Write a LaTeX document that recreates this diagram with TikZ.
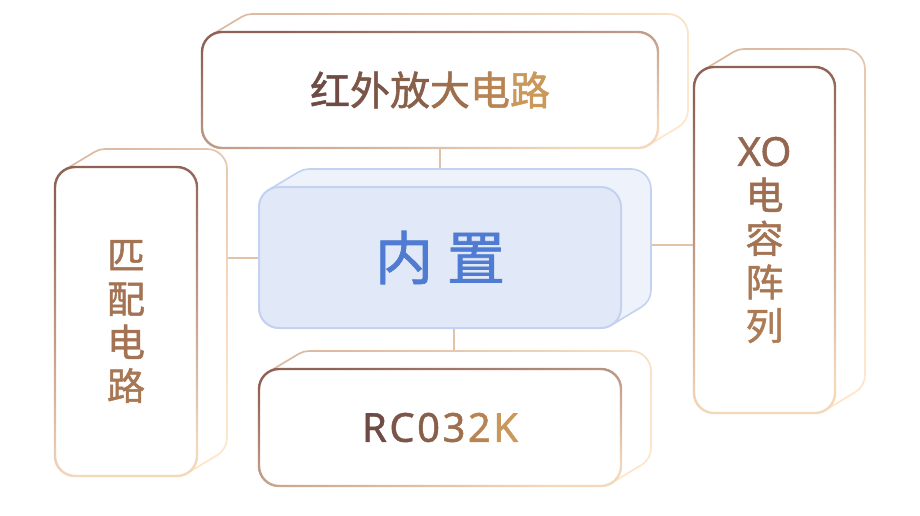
\documentclass[tikz,border=0pt]{standalone}
\usepackage{fontspec}
\setmainfont{Noto Sans}
\newfontfamily\cjk[FakeBold=1.3]{Noto Sans CJK SC}
\newfontfamily\lat[FakeBold=1.1]{Noto Sans}
\definecolor{connC}{HTML}{E3C3A7}
\definecolor{frD}{HTML}{8E6254}
\definecolor{frL}{HTML}{F4D8BC}
\definecolor{bkD}{HTML}{DDBBA2}
\definecolor{bkL}{HTML}{FDE6CA}
\definecolor{cFrontFill}{HTML}{E1E8F7}
\definecolor{cBackFill}{HTML}{EEF2FB}
\definecolor{cLine}{HTML}{C2D2F0}
\definecolor{cText}{HTML}{4F7BD2}
\definecolor{ta}{HTML}{6E4B44}
\definecolor{tb}{HTML}{7B5548}
\definecolor{tc}{HTML}{88604A}
\definecolor{td}{HTML}{9D6F4D}
\definecolor{te}{HTML}{B88453}
\definecolor{tf}{HTML}{CA985A}
\definecolor{va}{HTML}{94664F}
\definecolor{vb}{HTML}{9E6E50}
\definecolor{vc}{HTML}{A37353}
\definecolor{vd}{HTML}{A87854}
\definecolor{ve}{HTML}{AD7C55}
\pgfdeclarelayer{connlayer}
\pgfdeclarelayer{boxlayer}
\pgfsetlayers{connlayer,boxlayer,main}
\tikzset{
  hull/.style n args={6}{insert path={
    ({#1-#6},{#2+#5}) arc[start angle=180,end angle=239.04,radius={#5+#6}]
    -- ++(30,-18) arc[start angle=239.04,end angle=270,radius={#5+#6}]
    -- ({#3-#5+30},{#2-#6-18}) arc[start angle=270,end angle=360,radius={#5+#6}]
    -- ({#3+#6+30},{#4-#5-18}) arc[start angle=0,end angle=59.04,radius={#5+#6}]
    -- ++(-30,18) arc[start angle=59.04,end angle=90,radius={#5+#6}]
    -- ({#1+#5},{#4+#6}) arc[start angle=90,end angle=180,radius={#5+#6}]
    -- cycle}},
  frontgrad/.style={top color=frD, bottom color=frL, shading angle=15},
  backgrad/.style={top color=bkD, bottom color=bkL, shading angle=45},
  conn/.style={draw=connC, line width=2pt},
  lbl/.style={inner sep=0pt, shape=rectangle, align=center},
  cjkbig/.style={font=\cjk\fontsize{40}{48}\selectfont},
  cjkvert/.style={font=\cjk\fontsize{38}{43.5}\selectfont},
  latbig/.style={font=\lat\fontsize{40}{48}\selectfont}
}
\newcommand\brownbox[7]{%
  \begin{pgfonlayer}{boxlayer}
    \fill[white][hull={#2}{#3}{#4}{#5}{20}{0}];
    \shade[even odd rule, backgrad][hull={#2}{#3}{#4}{#5}{20}{0.85}][hull={#2}{#3}{#4}{#5}{20}{-0.85}];
    \fill[white, rounded corners=20pt] (#2,#3) rectangle (#4,#5);
    \shade[even odd rule, frontgrad][rounded corners=21.2pt] ({#2-1.2},{#3-1.2}) rectangle ({#4+1.2},{#5+1.2}) [rounded corners=18.8pt] ({#2+1.2},{#3+1.2}) rectangle ({#4-1.2},{#5-1.2});
  \end{pgfonlayer}
  \node[lbl, #6, minimum width={(#4-#2)*1pt}, minimum height={(#5-#3)*1pt}] (#1) at ({(#2+#4)/2},{(#3+#5)/2}) {#7};
}
\begin{document}
\begin{tikzpicture}[x=1pt,y=-1pt]
\begin{pgfonlayer}{connlayer}
  \fill[white] (0,0) rectangle (920,516);
\end{pgfonlayer}
\useasboundingbox (0,0) rectangle (920,516);

\brownbox{top}{202}{32}{658}{148}{cjkbig}{\color{ta}红\color{tb}外\color{tc}放\color{td}大\color{te}电\color{tf}路}
\brownbox{left}{55}{167}{197}{476}{cjkvert}{\color{vc}匹\\\color{vc}配\\\color{vc}电\\\color{vd}路}
\brownbox{right}{694}{67}{835}{413}{cjkvert}{{\lat\fontsize{40}{43.5}\selectfont\color{va}XO}\\\color{vb}电\\\color{vc}容\\\color{vd}阵\\\color{ve}列}
\brownbox{bottom}{259}{369}{621}{486}{latbig}{\color{ta}R\kern2.5pt\color{tb}C\kern2.5pt\color{tc}0\kern2.5pt\color{td}3\kern2.5pt\color{te}2\kern2.5pt\color{tf}K}

\begin{pgfonlayer}{boxlayer}
  \path[fill=cBackFill, draw=cLine, line width=1.6pt][hull={259}{187}{621}{328}{20}{0}];
  \path[fill=cFrontFill, draw=cLine, line width=2pt, rounded corners=20pt] (259,187) rectangle (621,328);
\end{pgfonlayer}
\node[lbl, text=cText, font=\cjk\fontsize{58}{64}\selectfont, minimum width=362pt, minimum height=141pt] (center) at (440,257.5) {内\hspace{14pt}置};

\begin{pgfonlayer}{connlayer}
  \draw[conn] (center.north |- top.south) -- (center.north);
  \draw[conn] ([xshift=14pt]center.south) -- ([xshift=14pt]center.south |- bottom.north);
  \draw[conn] (left.east |- center.west) -- (center.west);
  \draw[conn] ([yshift=12.5pt]center.east) -- ([yshift=12.5pt]center.east -| right.west);
\end{pgfonlayer}
\end{tikzpicture}
\end{document}
